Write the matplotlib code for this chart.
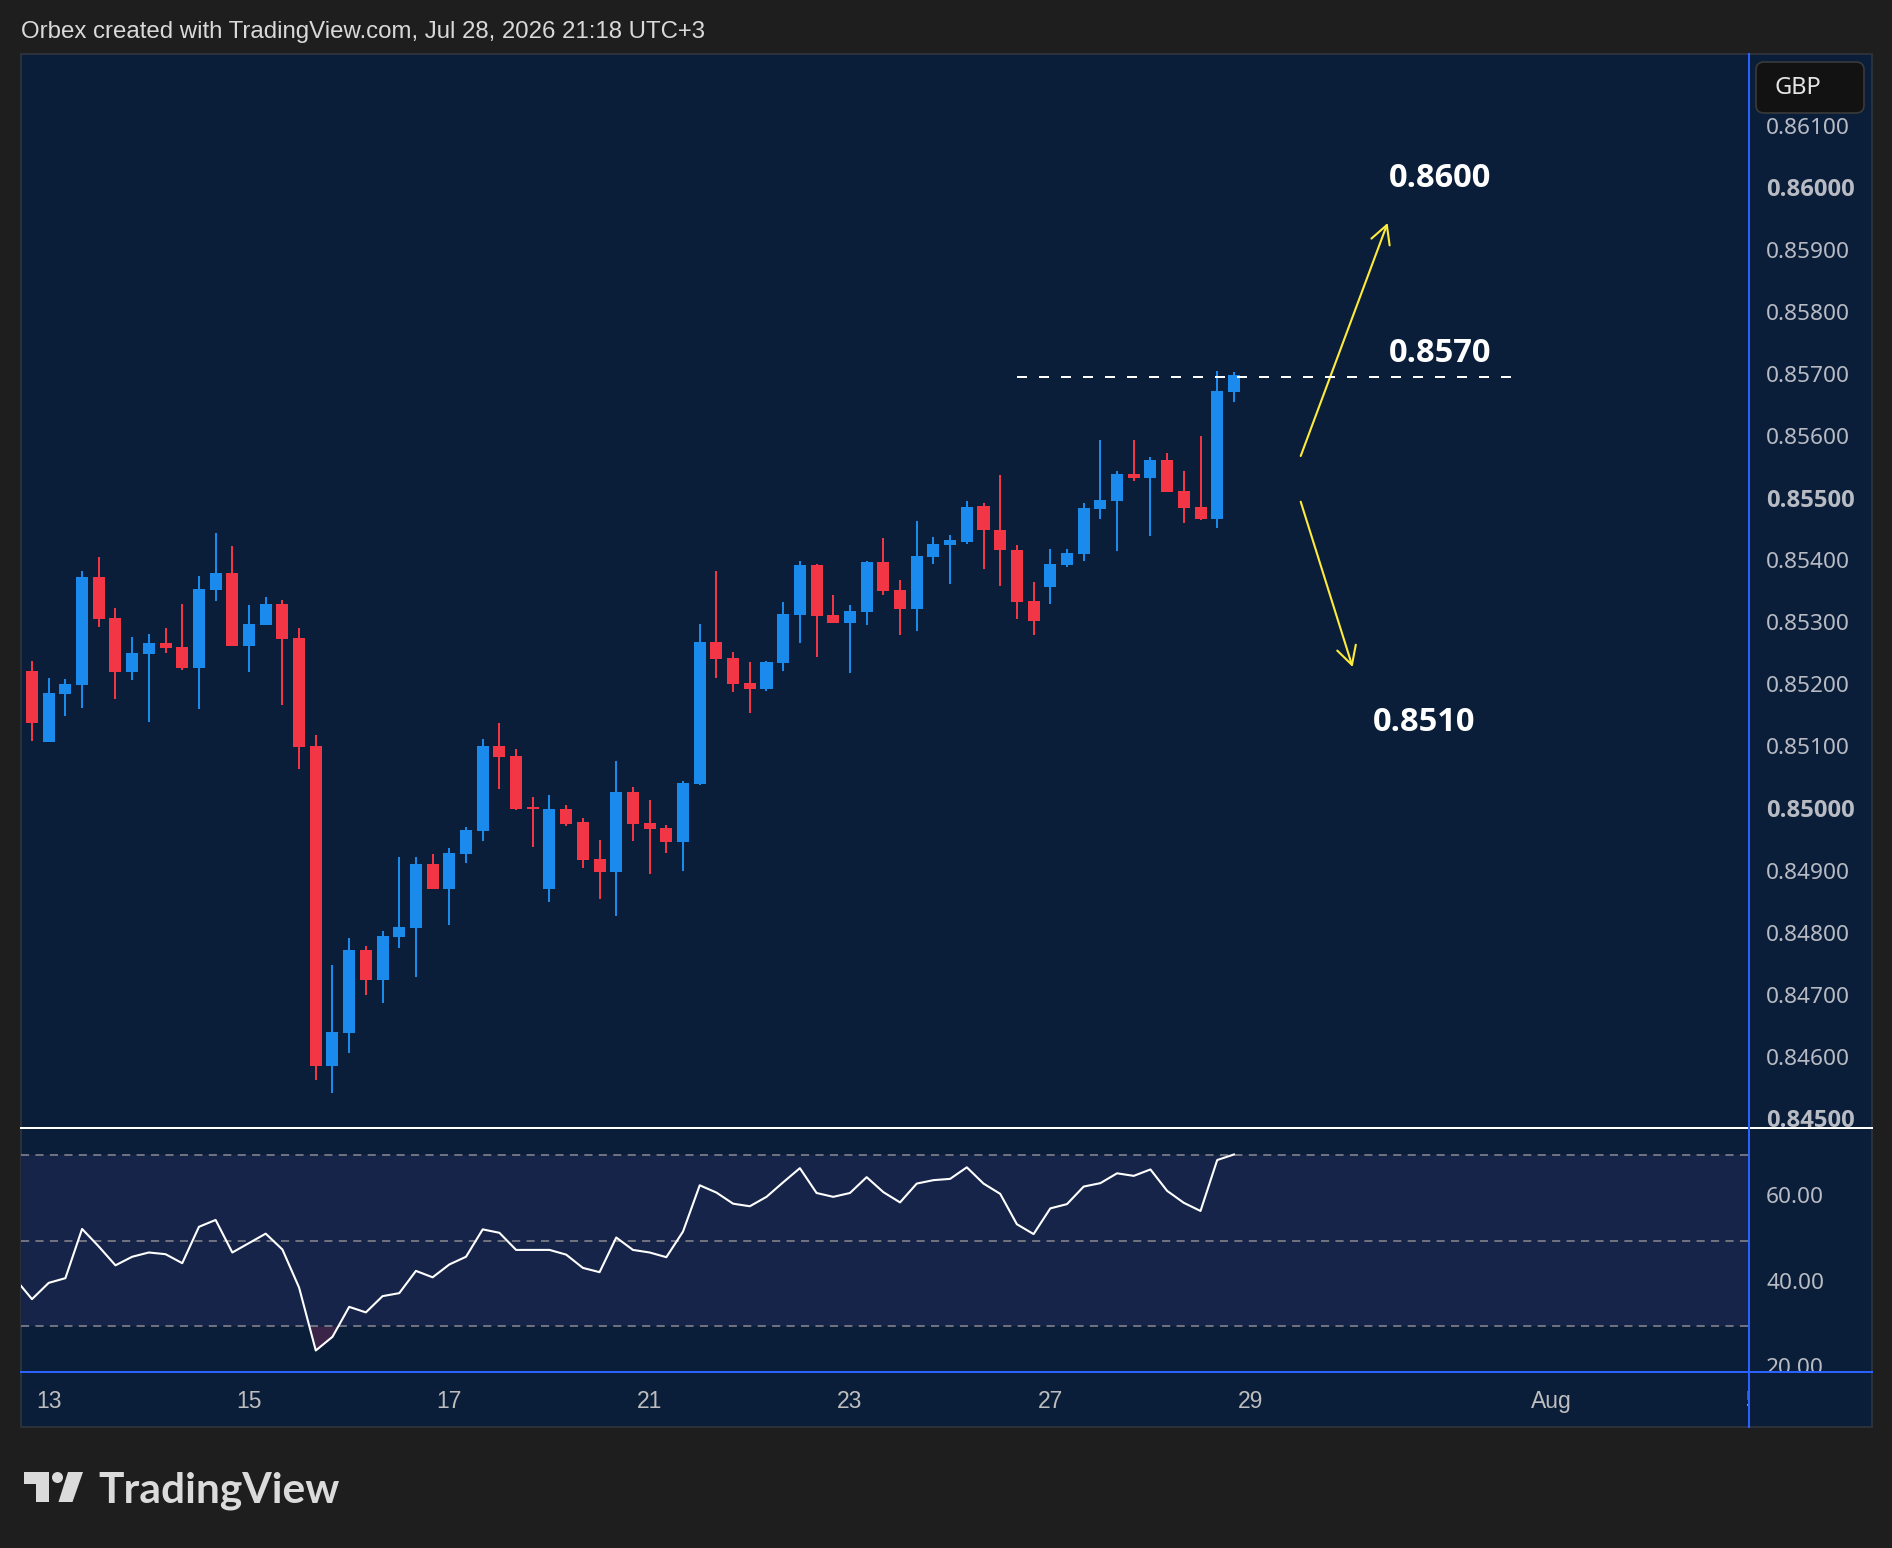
import matplotlib
matplotlib.use("Agg")
import matplotlib.pyplot as plt
import matplotlib.transforms as mtransforms
from matplotlib.patches import Rectangle, FancyBboxPatch, Polygon, Ellipse
import numpy as np

# 4H candles, Jul 10 (Fri) -> Jul 28 (Tue)
opens = [0.85154, 0.85225, 0.85111, 0.85188, 0.85203, 0.85377, 0.85311, 0.85224, 0.85253, 0.85271,
         0.85264, 0.85230, 0.85356, 0.85383, 0.85266, 0.85300, 0.85333, 0.85279, 0.85104, 0.84589,
         0.84642, 0.84776, 0.84728, 0.84797, 0.84812, 0.84915, 0.84874, 0.84931, 0.84968, 0.85105,
         0.85089, 0.85006, 0.84874, 0.85003, 0.84982, 0.84923, 0.84902, 0.85031, 0.84981, 0.84973,
         0.84950, 0.85044, 0.85272, 0.85247, 0.85206, 0.85197, 0.85238, 0.85316, 0.85396, 0.85316,
         0.85303, 0.85321, 0.85401, 0.85356, 0.85326, 0.85409, 0.85429, 0.85434, 0.85491, 0.85453,
         0.85421, 0.85338, 0.85361, 0.85396, 0.85414, 0.85487, 0.85500, 0.85543, 0.85537, 0.85566,
         0.85516, 0.85490, 0.85471, 0.85675]
highs = [0.85225, 0.85242, 0.85214, 0.85212, 0.85387, 0.85409, 0.85327, 0.85280, 0.85285, 0.85295,
         0.85333, 0.85379, 0.85448, 0.85427, 0.85332, 0.85345, 0.85340, 0.85295, 0.85122, 0.84752,
         0.84796, 0.84783, 0.84807, 0.84926, 0.84926, 0.84931, 0.84940, 0.84974, 0.85116, 0.85142,
         0.85100, 0.85023, 0.85026, 0.85010, 0.84989, 0.84953, 0.85081, 0.85039, 0.85018, 0.84977,
         0.85048, 0.85301, 0.85387, 0.85256, 0.85240, 0.85242, 0.85337, 0.85403, 0.85398, 0.85348,
         0.85332, 0.85403, 0.85440, 0.85372, 0.85467, 0.85441, 0.85445, 0.85499, 0.85496, 0.85541,
         0.85429, 0.85369, 0.85422, 0.85422, 0.85496, 0.85598, 0.85548, 0.85598, 0.85570, 0.85577,
         0.85548, 0.85604, 0.85709, 0.85707]
lows = [0.85154, 0.85112, 0.85111, 0.85153, 0.85166, 0.85296, 0.85180, 0.85211, 0.85143, 0.85254,
        0.85227, 0.85164, 0.85338, 0.85266, 0.85224, 0.85300, 0.85171, 0.85068, 0.84567, 0.84546,
        0.84610, 0.84704, 0.84691, 0.84779, 0.84733, 0.84874, 0.84816, 0.84916, 0.84952, 0.85035,
        0.85002, 0.84942, 0.84853, 0.84976, 0.84908, 0.84858, 0.84831, 0.84952, 0.84898, 0.84932,
        0.84903, 0.85042, 0.85214, 0.85192, 0.85158, 0.85193, 0.85226, 0.85271, 0.85248, 0.85303,
        0.85222, 0.85300, 0.85348, 0.85284, 0.85290, 0.85398, 0.85366, 0.85430, 0.85390, 0.85363,
        0.85309, 0.85284, 0.85334, 0.85393, 0.85403, 0.85471, 0.85419, 0.85532, 0.85443, 0.85514,
        0.85464, 0.85469, 0.85456, 0.85659]
closes = [0.85225, 0.85141, 0.85190, 0.85204, 0.85377, 0.85309, 0.85224, 0.85254, 0.85271, 0.85262,
          0.85230, 0.85358, 0.85383, 0.85266, 0.85301, 0.85333, 0.85277, 0.85103, 0.84589, 0.84644,
          0.84776, 0.84728, 0.84799, 0.84813, 0.84915, 0.84874, 0.84932, 0.84969, 0.85105, 0.85087,
          0.85003, 0.85003, 0.85003, 0.84979, 0.84921, 0.84902, 0.85031, 0.84979, 0.84971, 0.84950,
          0.85045, 0.85272, 0.85245, 0.85205, 0.85197, 0.85240, 0.85317, 0.85396, 0.85314, 0.85303,
          0.85322, 0.85401, 0.85354, 0.85326, 0.85411, 0.85430, 0.85437, 0.85490, 0.85452, 0.85421,
          0.85337, 0.85306, 0.85398, 0.85416, 0.85488, 0.85501, 0.85543, 0.85537, 0.85566, 0.85514,
          0.85488, 0.85471, 0.85677, 0.85703]
rsi = [41.0, 36.3, 40.1, 41.2, 52.7, 48.6, 44.2, 46.2, 47.2, 46.8,
       44.7, 53.2, 54.8, 47.2, 49.4, 51.6, 47.9, 39.0, 24.3, 27.5,
       34.5, 33.2, 37.0, 37.7, 42.9, 41.4, 44.4, 46.2, 52.6, 51.8,
       47.8, 47.8, 47.8, 46.7, 43.6, 42.6, 50.7, 47.8, 47.2, 46.1,
       52.1, 62.9, 61.2, 58.6, 58.0, 60.2, 63.6, 66.9, 61.1, 60.2,
       61.1, 64.8, 61.3, 58.9, 63.3, 64.1, 64.4, 67.1, 63.3, 60.9,
       53.8, 51.5, 57.5, 58.5, 62.6, 63.4, 65.7, 65.1, 66.6, 61.6,
       58.8, 56.9, 68.8, 70.1]

price_ticks = [0.845, 0.846, 0.847, 0.848, 0.849, 0.850, 0.851, 0.852, 0.853,
               0.854, 0.855, 0.856, 0.857, 0.858, 0.859, 0.860, 0.861]
bold_ticks = [0.845, 0.850, 0.855, 0.860]
rsi_ticks = [20, 40, 60]
rsi_levels = [30, 50, 70]
date_idx = [2, 14, 26, 38, 50, 62, 74, 92, 104]
date_labels = ["13", "15", "17", "21", "23", "27", "29", "Aug", "5"]

resistance = 0.8570
target_up = 0.8600
target_down = 0.8510

# colours
BG = "#1e1e1e"
PANE = "#0a1e3a"
BAND = "#152448"
UP = "#1a8bec"
DOWN = "#f23645"
AXBLUE = "#2962ff"
TXT = "#b8bbc3"
YEL = "#ffeb3b"
SCALE_FONT = ["Noto Sans", "DejaVu Sans"]
BOLD_FONT = ["Open Sans", "DejaVu Sans"]

W, H = 1892, 1548
X0, DX = 15.31, 16.693          # pixel x of bar 0 and bar spacing


def ix(xp):
    return (xp - X0) / DX


def price_at(yp):
    return 0.855 - (yp - 500.7) / 62060.0


def rsi_at(yp):
    return 60 - (yp - 1197.7) / 4.28


def box(x0, y0, x1, y1):
    return [x0 / W, 1 - y1 / H, (x1 - x0) / W, (y1 - y0) / H]


fig = plt.figure(figsize=(W / 100, H / 100), dpi=100, facecolor=BG)
px = mtransforms.Affine2D().scale(1.0 / W, -1.0 / H).translate(0, 1) + fig.transFigure

# panel background + border
fig.add_artist(Rectangle((20.5, 54), 1851.5, 1373, transform=px, facecolor=PANE,
                         edgecolor="#2c3038", lw=1.5, zorder=-1))

SEP = 1748.5
ax = fig.add_axes(box(20.5, 54, 1872, 1128))
rax = fig.add_axes(box(20.5, 1128, 1872, 1372))
tax = fig.add_axes(box(20.5, 1372, SEP, 1427))
for a in (ax, rax, tax):
    a.set_axis_off()

# ---- candles ----
idx = np.arange(len(opens))
o = np.array(opens)
c = np.array(closes)
cols = np.where(c >= o, UP, DOWN)
ax.vlines(idx, lows, highs, colors=cols, lw=1.44, zorder=2)
body_h = np.maximum(np.abs(c - o), 1.5 / 62060.0)
ax.bar(idx, body_h, bottom=np.minimum(o, c), width=0.72, color=cols, lw=0, zorder=3)
ax.set_xlim(ix(20.5), ix(1872))
ax.set_ylim(price_at(1128), price_at(54))

# price scale labels
for p in price_ticks:
    bold = any(abs(p - b) < 1e-9 for b in bold_ticks)
    ax.text(ix(1766), p, f"{p:.5f}", ha="left", va="center", color=TXT,
            fontsize=17.2 if bold else 16.3, family=BOLD_FONT if bold else SCALE_FONT,
            fontweight="bold" if bold else "normal", clip_on=True)

# resistance line and targets
ax.hlines(resistance, ix(1017), ix(1512), colors="white", lw=1.44,
          linestyles=(0, (5, 6)), zorder=4)
lbl = dict(color="white", fontsize=23.5, fontweight="bold", ha="left", va="center",
           family=BOLD_FONT, textcoords="offset points")
ax.annotate(f"{target_up:.4f}", xy=(ix(1389), target_up), xytext=(0, 8.5), **lbl)
ax.annotate(f"{resistance:.4f}", xy=(ix(1389), resistance), xytext=(0, 16.3), **lbl)
ax.annotate(f"{target_down:.4f}", xy=(ix(1373), target_down), xytext=(0, 18.7), **lbl)

arr = dict(arrowstyle="->,head_length=0.65,head_width=0.35", color=YEL, lw=1.5,
           shrinkA=0, shrinkB=0, mutation_scale=20)
ax.annotate("", xy=(ix(1387.6), price_at(223)), xytext=(ix(1300.7), price_at(456)),
            arrowprops=arr)
ax.annotate("", xy=(ix(1352.6), price_at(667)), xytext=(ix(1300.7), price_at(501.7)),
            arrowprops=arr)

# ---- RSI pane ----
rax.set_xlim(ix(20.5), ix(1872))
rax.set_ylim(rsi_at(1372), rsi_at(1128))
rax.fill_between([ix(20.5), ix(SEP)], rsi_levels[0], rsi_levels[-1], color=BAND, lw=0)
r = np.array(rsi)
rax.fill_between(idx, r, rsi_levels[0], where=r < rsi_levels[0], interpolate=True,
                 color="#3a2448", lw=0)
rax.hlines(rsi_levels, ix(20.5), ix(SEP), colors="#787b86", lw=1.3,
           linestyles=(0, (4.5, 3.5)))
rax.plot(idx, rsi, color="white", lw=1.5)
for v in rsi_ticks:
    rax.text(ix(1766), v, f"{v:.2f}", ha="left", va="center", color=TXT,
             fontsize=16.3, family=SCALE_FONT, clip_on=True)

# ---- time axis ----
tax.set_xlim(ix(20.5), ix(SEP))
tax.set_ylim(0, 1)
for i, lab in zip(date_idx, date_labels):
    tax.text(i, 0.47, lab, ha="center", va="center", color="#bdbdbd", fontsize=16.5,
             family=["Liberation Sans", "DejaVu Sans"], clip_on=True)

# pane separators
fig.add_artist(plt.Line2D([20.5, 1872], [1128, 1128], transform=px, color="white", lw=1.44, zorder=5))
fig.add_artist(plt.Line2D([20.5, 1872], [1372, 1372], transform=px, color=AXBLUE, lw=1.44, zorder=5))
fig.add_artist(plt.Line2D([SEP, SEP], [54, 1427], transform=px, color=AXBLUE, lw=1.44, zorder=5))

# currency badge
fig.add_artist(FancyBboxPatch((1756, 62), 108, 51, boxstyle="round,pad=0,rounding_size=8",
                              transform=px, facecolor="#121212", edgecolor="#3a3a3a",
                              lw=1.2, zorder=6))
fig.text(1774, 88, "GBP", transform=px, ha="left", va="center", color="#e6e6e6",
         fontsize=17, family=SCALE_FONT, zorder=7)

# header
fig.text(20.5, 32, "Orbex created with TradingView.com, Jul 28, 2026 21:18 UTC+3",
         transform=px, ha="left", va="center", color="#d9d9d9", fontsize=17.3,
         family=["Liberation Sans", "DejaVu Sans"])

# TradingView logo
LOGO = "#dbdbdb"
fig.add_artist(Polygon([(24, 1472), (48.5, 1472), (48.5, 1502), (36, 1502), (36, 1484), (24, 1484)],
                       closed=True, transform=px, facecolor=LOGO, lw=0))
fig.add_artist(Ellipse((57.5, 1477.5), 11, 11, transform=px, facecolor=LOGO, lw=0))
fig.add_artist(Polygon([(68, 1472), (83, 1472), (72.5, 1502), (58.5, 1502)],
                       closed=True, transform=px, facecolor=LOGO, lw=0))
fig.text(98, 1502, "TradingView", transform=px, ha="left", va="baseline", color=LOGO,
         fontsize=30.6, fontweight="bold", family=["Lato", "DejaVu Sans"])

fig.savefig("out.png", dpi=100, facecolor=BG)
